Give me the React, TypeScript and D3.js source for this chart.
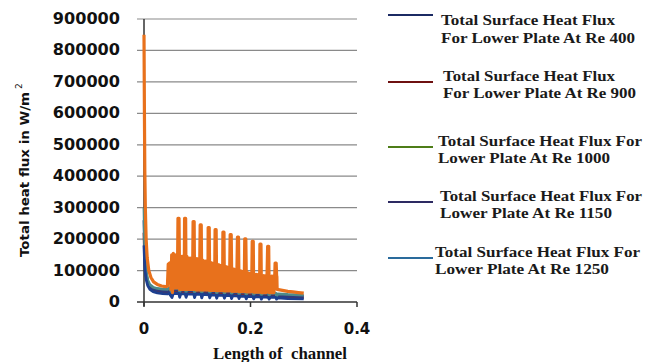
import * as d3 from "d3";

// Reynolds numbers shown in the legend
const reLabels = ["400", "900", "1000", "1150", "1250"];
const legendFirst = [
  "Total Surface Heat Flux",
  "Total Surface Heat Flux",
  "Total Surface Heat Flux For",
  "Total Surface Heat Flux For",
  "Total Surface Heat Flux For",
];
const legendSecond = [
  "For Lower Plate At Re 400",
  "For Lower Plate At Re 900",
  "Lower Plate At Re 1000",
  "Lower Plate At Re 1150",
  "Lower Plate At Re 1250",
];

const yTicks = [0, 100000, 200000, 300000, 400000, 500000, 600000, 700000, 800000, 900000];
const xTicks = [0, 0.2, 0.4];

// shared x positions for the four lower curves
const lowX = [
  0, 0.001, 0.002, 0.004, 0.007, 0.011, 0.017, 0.025, 0.035, 0.044,
  0.047, 0.0525, 0.055, 0.0655, 0.067, 0.069, 0.0775, 0.079, 0.081,
  0.0935, 0.095, 0.097, 0.107, 0.1085, 0.1105, 0.122, 0.1235, 0.1255,
  0.135, 0.1365, 0.1385, 0.1495, 0.151, 0.153, 0.163, 0.1645, 0.1665,
  0.177, 0.1785, 0.1805, 0.1905, 0.192, 0.194, 0.2045, 0.206, 0.208,
  0.219, 0.2205, 0.2225, 0.2335, 0.235, 0.237, 0.2475, 0.249, 0.251,
  0.27, 0.3,
];

const re400 = [
  180000, 130000, 100000, 72000, 52000, 40000, 33000, 29000, 27000, 26000,
  28000, 14000, 27000, 27000, 15000, 26000, 26000, 15000, 26000,
  25000, 14000, 25000, 24000, 13000, 24000, 23000, 13000, 23000,
  22000, 12000, 22000, 21000, 12000, 21000, 20000, 11000, 20000,
  19000, 11000, 19000, 18000, 10000, 18000, 17000, 10000, 17000,
  16000, 9000, 16000, 15000, 9000, 15000, 15000, 9000, 13000,
  11000, 10000,
];
const re900 = [
  220000, 150000, 115000, 82000, 60000, 46000, 38000, 34000, 32000, 31000,
  33000, 20000, 32000, 32000, 20000, 31000, 31000, 19000, 31000,
  30000, 19000, 30000, 29000, 18000, 29000, 28000, 17000, 28000,
  27000, 17000, 27000, 26000, 16000, 26000, 25000, 15000, 25000,
  24000, 15000, 24000, 23000, 14000, 23000, 22000, 13000, 22000,
  21000, 13000, 21000, 20000, 12000, 20000, 20000, 12000, 18000,
  15000, 14000,
];
const re1000 = [
  300000, 200000, 150000, 100000, 70000, 55000, 47000, 43000, 41000, 40000,
  45000, 30000, 44000, 44000, 31000, 43000, 43000, 30000, 42000,
  42000, 29000, 41000, 41000, 28000, 40000, 40000, 27000, 39000,
  38000, 26000, 37000, 37000, 25000, 36000, 36000, 24000, 35000,
  34000, 23000, 33000, 33000, 22000, 32000, 32000, 21000, 31000,
  30000, 20000, 29000, 29000, 20000, 28000, 28000, 19000, 26000,
  24000, 22000,
];
const re1150 = [
  260000, 175000, 130000, 90000, 65000, 50000, 42000, 38000, 36000, 35000,
  39000, 25000, 38000, 38000, 25000, 37000, 37000, 24000, 36000,
  36000, 24000, 35000, 35000, 23000, 34000, 34000, 22000, 33000,
  33000, 21000, 32000, 32000, 20000, 31000, 31000, 20000, 30000,
  30000, 19000, 29000, 29000, 18000, 28000, 28000, 17000, 27000,
  26000, 17000, 25000, 25000, 16000, 24000, 24000, 15000, 22000,
  19000, 18000,
];

// Re 1250: the orange curve with the large spikes
const re1250: [number, number][] = [
  [0, 850000], [0.0008, 600000], [0.0015, 420000], [0.0025, 300000], [0.004, 200000],
  [0.006, 140000], [0.009, 100000], [0.013, 78000], [0.018, 64000], [0.025, 56000],
  [0.033, 51000], [0.04, 49000], [0.044, 50000],
  [0.0455, 120000], [0.049, 125000], [0.0505, 40000], [0.052, 150000], [0.0535, 30000],
  [0.055, 155000], [0.0565, 45000], [0.058, 150000], [0.0595, 45000], [0.061, 150000],
  [0.0625, 45000], [0.0632, 150000],
  [0.0638, 266000], [0.0658, 266000], [0.067, 40000], [0.0685, 145000], [0.07, 40000],
  [0.0715, 145000], [0.073, 40000], [0.0745, 145000], [0.0755, 40000],
  [0.0762, 266000], [0.0782, 266000], [0.079, 40000], [0.0805, 145000], [0.082, 40000],
  [0.0835, 140000], [0.085, 40000], [0.0865, 140000], [0.088, 40000], [0.0895, 140000],
  [0.091, 40000],
  [0.0922, 256000], [0.0942, 256000], [0.095, 40000], [0.0965, 138000], [0.098, 38000],
  [0.0995, 138000], [0.101, 38000], [0.1025, 135000], [0.104, 38000],
  [0.1055, 245000], [0.1075, 245000], [0.1085, 38000], [0.11, 133000], [0.1115, 38000],
  [0.113, 130000], [0.1145, 38000], [0.116, 130000], [0.1175, 38000], [0.119, 128000],
  [0.12, 38000],
  [0.1205, 237000], [0.1225, 237000], [0.1235, 37000], [0.125, 126000], [0.1265, 37000],
  [0.128, 124000], [0.1295, 37000], [0.131, 122000], [0.1325, 37000],
  [0.1335, 230000], [0.1355, 230000], [0.1365, 36000], [0.138, 120000], [0.1395, 36000],
  [0.141, 118000], [0.1425, 36000], [0.144, 116000], [0.1455, 36000], [0.147, 115000],
  [0.1475, 36000],
  [0.1482, 222000], [0.1502, 222000], [0.151, 35000], [0.1525, 113000], [0.154, 35000],
  [0.1555, 112000], [0.157, 35000], [0.1585, 110000], [0.16, 35000], [0.161, 108000],
  [0.1618, 214000], [0.1638, 214000], [0.165, 34000], [0.166, 106000], [0.1675, 34000],
  [0.169, 105000], [0.1705, 34000], [0.172, 103000], [0.1735, 34000], [0.1745, 100000],
  [0.1755, 206000], [0.1775, 206000], [0.1785, 33000], [0.18, 100000], [0.1815, 33000],
  [0.183, 98000], [0.1845, 33000], [0.186, 96000], [0.1875, 33000], [0.1885, 95000],
  [0.1892, 201000], [0.1912, 201000], [0.1925, 32000], [0.1935, 94000], [0.195, 32000],
  [0.1965, 92000], [0.198, 32000], [0.1995, 90000], [0.201, 32000], [0.2025, 90000],
  [0.2032, 193000], [0.2052, 193000], [0.206, 31000], [0.2075, 89000], [0.209, 31000],
  [0.2105, 88000], [0.212, 31000], [0.2135, 87000], [0.215, 31000], [0.2165, 86000],
  [0.217, 31000],
  [0.2177, 184000], [0.2197, 184000], [0.2205, 30000], [0.222, 85000], [0.2235, 30000],
  [0.225, 84000], [0.2265, 30000], [0.228, 83000], [0.2295, 30000], [0.231, 82000],
  [0.2322, 177000], [0.2342, 177000], [0.235, 30000], [0.2365, 82000], [0.238, 30000],
  [0.2395, 82000], [0.241, 30000], [0.2425, 82000], [0.244, 30000], [0.2455, 82000],
  [0.2462, 124000], [0.2482, 124000], [0.249, 85000], [0.2495, 80000], [0.25, 40000],
  [0.26, 37000], [0.27, 34000], [0.28, 32000], [0.29, 30000], [0.3, 28000],
];

const plotColors = ["#1d3f8f", "#8a2a1a", "#4d8a8a", "#2e3a80", "#e8711c"];
const legendColors = ["#1b2a63", "#6e1010", "#4e7d18", "#2d2a62", "#2a6b9c"];

export default function App() {
  const width = 645;
  const height = 362;
  const margin = { top: 19, right: 288, bottom: 60, left: 144 };

  const x = d3.scaleLinear().domain([0, 0.4]).range([margin.left, width - margin.right]);
  const y = d3.scaleLinear().domain([0, 900000]).range([height - margin.bottom, margin.top]);

  const line = d3
    .line<[number, number]>()
    .x((d) => x(d[0]))
    .y((d) => y(d[1]));

  const lowSeries = [
    { key: "900", vals: re900, color: plotColors[1] },
    { key: "1150", vals: re1150, color: plotColors[3] },
    { key: "1000", vals: re1000, color: plotColors[2] },
    { key: "400", vals: re400, color: plotColors[0] },
  ];

  // legend layout
  const legLineY = [15, 82, 147, 202, 258];
  const legTextX = [441, 443, 438, 440, 435];
  const legBase1 = [25, 81, 146, 201, 257];
  const legBase2 = [43, 98, 163, 218, 274];
  const legLen1 = [174, 172, 204, 202, 205];
  const legLen2 = [194, 193, 172, 172, 174];

  const tickFont = "'DejaVu Sans', Verdana, sans-serif";
  const serif = "'Liberation Serif', 'Times New Roman', serif";

  return (
    <svg
      width={width}
      height={height}
      style={{ position: "absolute", left: 0, top: 0, background: "#fff" }}
    >
      <rect x={0} y={0} width={width} height={height} fill="#fff" />

      {yTicks.map((t) => (
        <g key={t}>
          <line
            x1={margin.left - 7}
            x2={width - margin.right}
            y1={y(t)}
            y2={y(t)}
            stroke={t === 0 ? "#333" : "#8a8a8a"}
            strokeWidth={t === 0 ? 1.5 : 1.2}
          />
          <text
            x={120}
            y={y(t) + 5}
            textAnchor="end"
            fontFamily={tickFont}
            fontWeight="bold"
            fontSize={15}
            fill="#111"
            textLength={String(t).length * 11.2}
            lengthAdjust="spacingAndGlyphs"
          >
            {t}
          </text>
        </g>
      ))}

      <line
        x1={margin.left}
        x2={margin.left}
        y1={margin.top}
        y2={height - margin.bottom + 4}
        stroke="#333"
        strokeWidth={1.5}
      />

      {xTicks.map((t) => (
        <g key={t}>
          <line x1={x(t)} x2={x(t)} y1={y(0)} y2={y(0) + 5} stroke="#333" strokeWidth={1.5} />
          <text
            x={x(t)}
            y={334}
            textAnchor="middle"
            fontFamily={tickFont}
            fontWeight="bold"
            fontSize={15}
            fill="#111"
          >
            {t === 0 ? "0" : String(t)}
          </text>
        </g>
      ))}

      {lowSeries.map((s) => (
        <path
          key={s.key}
          d={line(lowX.map((v, i) => [v, s.vals[i]] as [number, number])) ?? ""}
          fill="none"
          stroke={s.color}
          strokeWidth={2.8}
          strokeLinejoin="round"
        />
      ))}
      <path
        d={line(re1250) ?? ""}
        fill="none"
        stroke={plotColors[4]}
        strokeWidth={3.2}
        strokeLinejoin="round"
      />

      <text
        transform="translate(29,257) rotate(-90)"
        fontFamily={tickFont}
        fontWeight="bold"
        fontSize={13}
        fill="#111"
        textLength={165}
        lengthAdjust="spacingAndGlyphs"
      >
        Total heat flux in W/m
      </text>
      <text
        transform="translate(22,89) rotate(-90)"
        fontFamily={tickFont}
        fontSize={9}
        fill="#111"
      >
        2
      </text>

      <text
        x={280}
        y={359}
        textAnchor="middle"
        fontFamily={serif}
        fontWeight="bold"
        fontSize={16}
        fill="#111"
        style={{ whiteSpace: "pre" }}
        textLength={134}
        lengthAdjust="spacingAndGlyphs"
      >
        {"Length of  channel"}
      </text>

      {reLabels.map((re, i) => (
        <g key={re}>
          <line
            x1={388}
            x2={433}
            y1={legLineY[i]}
            y2={legLineY[i]}
            stroke={legendColors[i]}
            strokeWidth={2.2}
          />
          <text
            x={legTextX[i]}
            y={legBase1[i]}
            fontFamily={serif}
            fontWeight="bold"
            fontSize={15.5}
            fill="#1a1a1a"
            textLength={legLen1[i]}
            lengthAdjust="spacingAndGlyphs"
          >
            {legendFirst[i]}
          </text>
          <text
            x={legTextX[i]}
            y={legBase2[i]}
            fontFamily={serif}
            fontWeight="bold"
            fontSize={15.5}
            fill="#1a1a1a"
            textLength={legLen2[i]}
            lengthAdjust="spacingAndGlyphs"
          >
            {legendSecond[i]}
          </text>
        </g>
      ))}
    </svg>
  );
}
